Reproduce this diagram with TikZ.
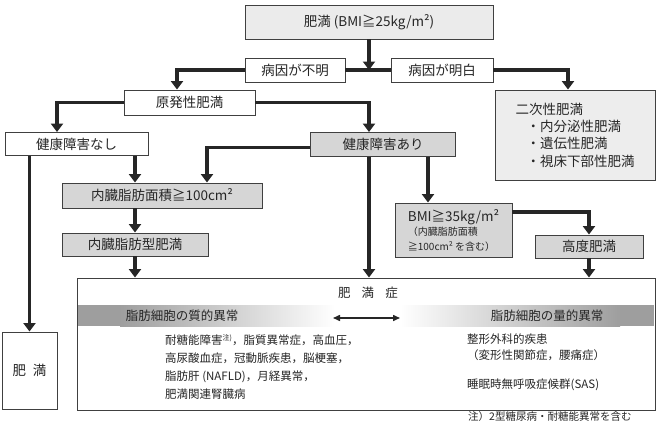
\documentclass[tikz,border=0pt]{standalone}
\usepackage{fontspec}
\setmainfont{Noto Sans CJK JP}
\usepackage{xcolor}
\usetikzlibrary{arrows.meta,positioning,calc}

\begin{document}
\begin{tikzpicture}[
    x=1pt, y=-1pt,
    box/.style={rectangle, draw=black!75, line width=0.9pt, fill=#1, inner sep=2pt, text=black!85, font=\fontsize{13.5}{14.5}\selectfont},
    box/.default=white,
    arr/.style={-{Triangle[width=12pt,length=8.5pt]}, line width=3.1pt, color=black!85},
    ln/.style={line width=3.1pt, color=black!85},
    darr/.style={{Triangle[width=6pt,length=7pt]}-{Triangle[width=6pt,length=7pt]}, line width=1.5pt, color=black!85},
    lbl/.style={text=black!85, inner sep=0pt, font=\fontsize{12.5}{14}\selectfont},
    small/.style={text=black!85, inner sep=0pt, align=left, font=\fontsize{11.5}{18.3}\selectfont}
]
    \useasboundingbox (0,0) rectangle (659,423);

    % Top
    \node[box=black!8, minimum width=248pt, minimum height=34pt] (bmi25) at (369,22) {肥満 (BMI≧25kg/m²)};
    \node[box, minimum width=100pt, minimum height=24pt] (unknown) at (295,70) {病因が不明};
    \node[box, minimum width=102pt, minimum height=24pt] (clear) at (442,70) {病因が明白};

    % Primary / secondary
    \node[box, minimum width=131pt, minimum height=25pt] (primary) at (189.5,102.5) {原発性肥満};
    \node[box=black!7, minimum width=160pt, minimum height=90pt, align=left, font=\fontsize{13.5}{17.3}\selectfont]
        (secondary) at (575,135) {二次性肥満\\\hspace*{11pt}・内分泌性肥満\\\hspace*{11pt}・遺伝性肥満\\\hspace*{11pt}・視床下部性肥満};

    % Health problems
    \node[box, minimum width=143pt, minimum height=23pt] (nohealth) at (76.5,144) {健康障害なし};
    \node[box=black!16, minimum width=145pt, minimum height=24pt] (health) at (383,144.5) {健康障害あり};

    % Visceral fat branch
    \node[box=black!16, minimum width=200pt, minimum height=25pt] (visc) at (162,195.5) {内臓脂肪面積≧100cm²};
    \node[box=black!16, minimum width=146pt, minimum height=23pt] (vtype) at (135,244.5) {内臓脂肪型肥満};

    % BMI >= 35 branch
    \node[box=black!16, minimum width=117pt, minimum height=54pt, align=left] (bmi35) at (453.5,230)
        {BMI≧35kg/m²\\{\fontsize{10}{12}\selectfont （内臓脂肪面積}\\{\fontsize{10}{12}\selectfont ≧100cm² を含む）}};
    \node[box=black!16, minimum width=108pt, minimum height=23pt] (severe) at (589,246.5) {高度肥満};

    % Obesity disease
    \node[box, minimum width=578pt, minimum height=132pt] (disease) at (366,344) {};
    \fill[black!38] (78,305) rectangle (120,326);
    \shade[left color=black!38, right color=white] (120,305) rectangle (335,326);
    \shade[left color=white, right color=black!38] (400,305) rectangle (620,326);
    \fill[black!38] (620,305) rectangle (654,326);
    \node[lbl] (dtitle) at (368,293) {肥\hspace{0.9em}満\hspace{0.9em}症};
    \node[lbl] (qual) at (182,316) {脂肪細胞の質的異常};
    \node[lbl] (quant) at (547,316) {脂肪細胞の量的異常};
    \coordinate (qarr) at (333,318);
    \coordinate (narr) at (400,318);
    \draw[darr] (qarr) -- (narr);
    \node[small, anchor=north west] (qlist) at (165,334)
        {耐糖能障害\raisebox{4pt}{\fontsize{7}{8}\selectfont 注)}，脂質異常症，高血圧，\\高尿酸血症，冠動脈疾患，脳梗塞，\\脂肪肝 (NAFLD)，月経異常，\\肥満関連腎臓病};
    \node[small, anchor=north west, font=\fontsize{11.5}{16}\selectfont] (nlist) at (467,334)
        {整形外科的疾患\\（変形性関節症，腰痛症）\\[13pt]睡眠時無呼吸症候群(SAS)};

    % Obesity only
    \node[box, minimum width=55pt, minimum height=77pt] (obese) at (29.5,370.5) {肥\hspace{0.5em}満};

    % Note
    \node[small, anchor=north west, font=\fontsize{10.5}{12}\selectfont] (note) at (468,411.5) {注）2型糖尿病・耐糖能異常を含む};

    % Arrows
    \draw[arr] (bmi25) -- (bmi25 |- unknown);
    \draw[ln] (unknown) -- (clear);
    \draw[arr] (unknown.west) -| ([xshift=-12.5pt]primary.north);
    \draw[arr] (clear.east) -| ([xshift=-7pt]secondary.north);
    \draw[arr] (primary.west) -| ([xshift=-19.5pt]nohealth.north);
    \draw[arr] (primary.east) -| (bmi25 |- health.north);
    \draw[arr] (obese |- nohealth.south) -- (obese.north);
    \draw[arr] (vtype |- nohealth.south) -- (vtype |- visc.north);
    \draw[arr] ([yshift=-3pt]health.west) -| ([xshift=45pt]visc.north);
    \draw[arr] (vtype |- visc.south) -- (vtype.north);
    \draw[arr] (vtype.south) -- (vtype |- disease.north);
    \draw[arr] (bmi25 |- health.south) -- (bmi25 |- disease.north);
    \draw[arr] ([xshift=-25.5pt]bmi35.north |- health.south) -- ([xshift=-25.5pt]bmi35.north);
    \draw[arr] ([yshift=18pt]bmi35.east) -| (severe.north);
    \draw[arr] (severe.south) -- (severe |- disease.north);

\end{tikzpicture}
\end{document}
